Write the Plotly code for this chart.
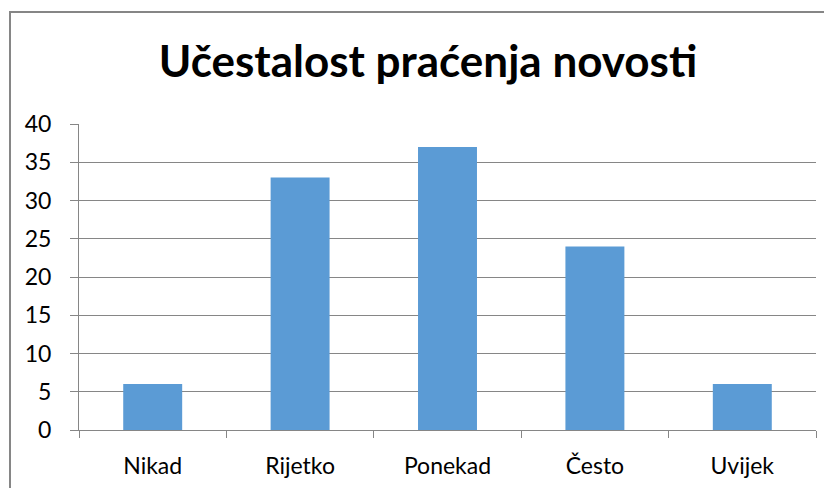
import plotly.graph_objects as go

categories = ["Nikad", "Rijetko", "Ponekad", "Često", "Uvijek"]
values = [6, 33, 37, 24, 6]
y_ticks = [0, 5, 10, 15, 20, 25, 30, 35, 40]
title_text = "Učestalost praćenja novosti"

# page has an 8px body margin; figure drawn from (8, 8)
W, H = 832, 488
ml, mr, mt, mb = 71, 24, 116, 66
pw, ph = W - ml - mr, H - mt - mb

fig = go.Figure(go.Bar(x=categories, y=values, marker=dict(color="#5B9BD5", line=dict(width=0)), width=0.4))

fig.update_layout(
    width=W, height=H,
    margin=dict(l=ml, r=mr, t=mt, b=mb, autoexpand=False),
    paper_bgcolor="white", plot_bgcolor="white",
    font=dict(family="Lato, Carlito, Calibri, sans-serif", color="#000000", size=23),
    title=dict(text="<b>" + title_text + "</b>", x=420 / W, xref="container", xanchor="center",
               y=1 - 54 / H, yref="container", yanchor="middle",
               font=dict(size=44, color="#000000")),
    showlegend=False,
    bargap=0.6,
)
fig.update_xaxes(
    showline=True, linecolor="#868686", linewidth=1,
    ticks="outside", tickson="boundaries", ticklen=7, tickcolor="#868686",
    showgrid=False, ticklabelstandoff=15, automargin=False,
)
fig.update_yaxes(
    range=[0, 40], tickvals=y_ticks,
    showline=True, linecolor="#868686", linewidth=1,
    ticks="outside", ticklen=8, tickcolor="#868686",
    showgrid=True, gridcolor="#868686", gridwidth=1,
    zeroline=False, ticklabelstandoff=14, automargin=False,
)
# outer chart border
fig.add_shape(type="rect", xref="paper", yref="paper",
              x0=(2 - ml) / pw, x1=(W + 20 - ml) / pw,
              y0=-(mb + 20) / ph, y1=1 + (mt - 4) / ph,
              line=dict(color="#868686", width=2), fillcolor="rgba(0,0,0,0)", layer="below")

fig.write_html("out.html")
